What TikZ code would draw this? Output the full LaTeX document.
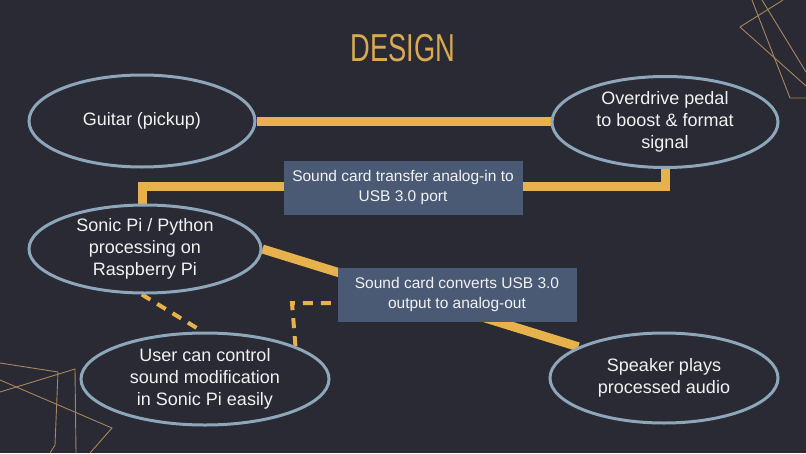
\documentclass[tikz,border=0pt]{standalone}
\usepackage{graphicx}
\usepackage{fontspec}
\setmainfont{Liberation Sans}
\usetikzlibrary{shapes.geometric}
\definecolor{bgc}{HTML}{292A33}
\definecolor{gold}{HTML}{E7B24B}
\definecolor{ring}{HTML}{8DA6BA}
\definecolor{boxc}{HTML}{4A5A75}
\definecolor{titlec}{HTML}{D9AA52}
\definecolor{deco}{HTML}{A88660}
\definecolor{txt}{HTML}{F2F2F2}
\pgfdeclarelayer{bg}
\pgfdeclarelayer{wires}
\pgfsetlayers{bg,wires,main}
\begin{document}
\begin{tikzpicture}[x=1pt,y=-1pt,
 oval/.style={ellipse,draw=ring,line width=3pt,fill=bgc,inner sep=0pt,text=txt,font=\fontsize{18}{22}\selectfont,align=center},
 card/.style={rectangle,fill=boxc,inner sep=0pt,text=txt,font=\fontsize{15.5}{19.5}\selectfont,align=center,minimum width=239pt,minimum height=54pt},
 wire/.style={draw=gold,line width=9pt},
 dwire/.style={draw=gold,line width=4pt,dash pattern=on 10pt off 8pt},
 decoline/.style={draw=deco,line width=0.9pt}]
\useasboundingbox (0,0) rectangle (806,453);
\begin{pgfonlayer}{bg}
\fill[bgc] (0,0) rectangle (806,453);
\draw[decoline] (752,0) -- (790,98) -- (806,98);
\draw[decoline] (783,0) -- (740,27) -- (806,86);
\draw[decoline] (762,0) -- (806,72);
\draw[decoline] (0,363) -- (58,372) -- (55,445) -- (50,453);
\draw[decoline] (0,392) -- (75,369) -- (76,453);
\draw[decoline] (0,380) -- (112,428) -- (90,453);
\end{pgfonlayer}

\node[text=titlec,font=\fontsize{39}{44}\selectfont] (title) at (403,48) {\scalebox{0.7}[1]{DESIGN}};

\node[oval,minimum width=226pt,minimum height=92pt] (guitar) at (142,121) {Guitar (pickup)};
\node[oval,minimum width=226pt,minimum height=91pt] (over) at (665,122) {Overdrive pedal\\to boost \& format\\signal};
\node[oval,minimum width=232pt,minimum height=88pt] (sonic) at (145,249) {Sonic Pi / Python\\processing on\\Raspberry Pi};
\node[oval,minimum width=248pt,minimum height=92pt] (user) at (205,379) {User can control\\sound modification\\in Sonic Pi easily};
\node[oval,minimum width=228pt,minimum height=90pt] (speaker) at (664,378) {Speaker plays\\processed audio};

\node[card] (usbin) at (403,187.5) {Sound card transfer analog-in to\\USB 3.0 port};
\node[card] (usbout) at (457,294.5) {Sound card converts USB 3.0\\output to analog-out};

\coordinate (k) at (142,186);
\coordinate (bend) at (292,303);
\begin{pgfonlayer}{wires}
\draw[wire] (guitar.east) -- (guitar.east -| over.west);
\draw[wire] (over.south) |- (k) -- (k |- sonic.north);
\draw[wire] (sonic.east) -- (speaker.160);
\draw[dwire] (sonic.-94) -- (user.93);
\draw[dwire] (user.20) -- (bend) -- (bend -| usbout.west);
\end{pgfonlayer}
\end{tikzpicture}
\end{document}
